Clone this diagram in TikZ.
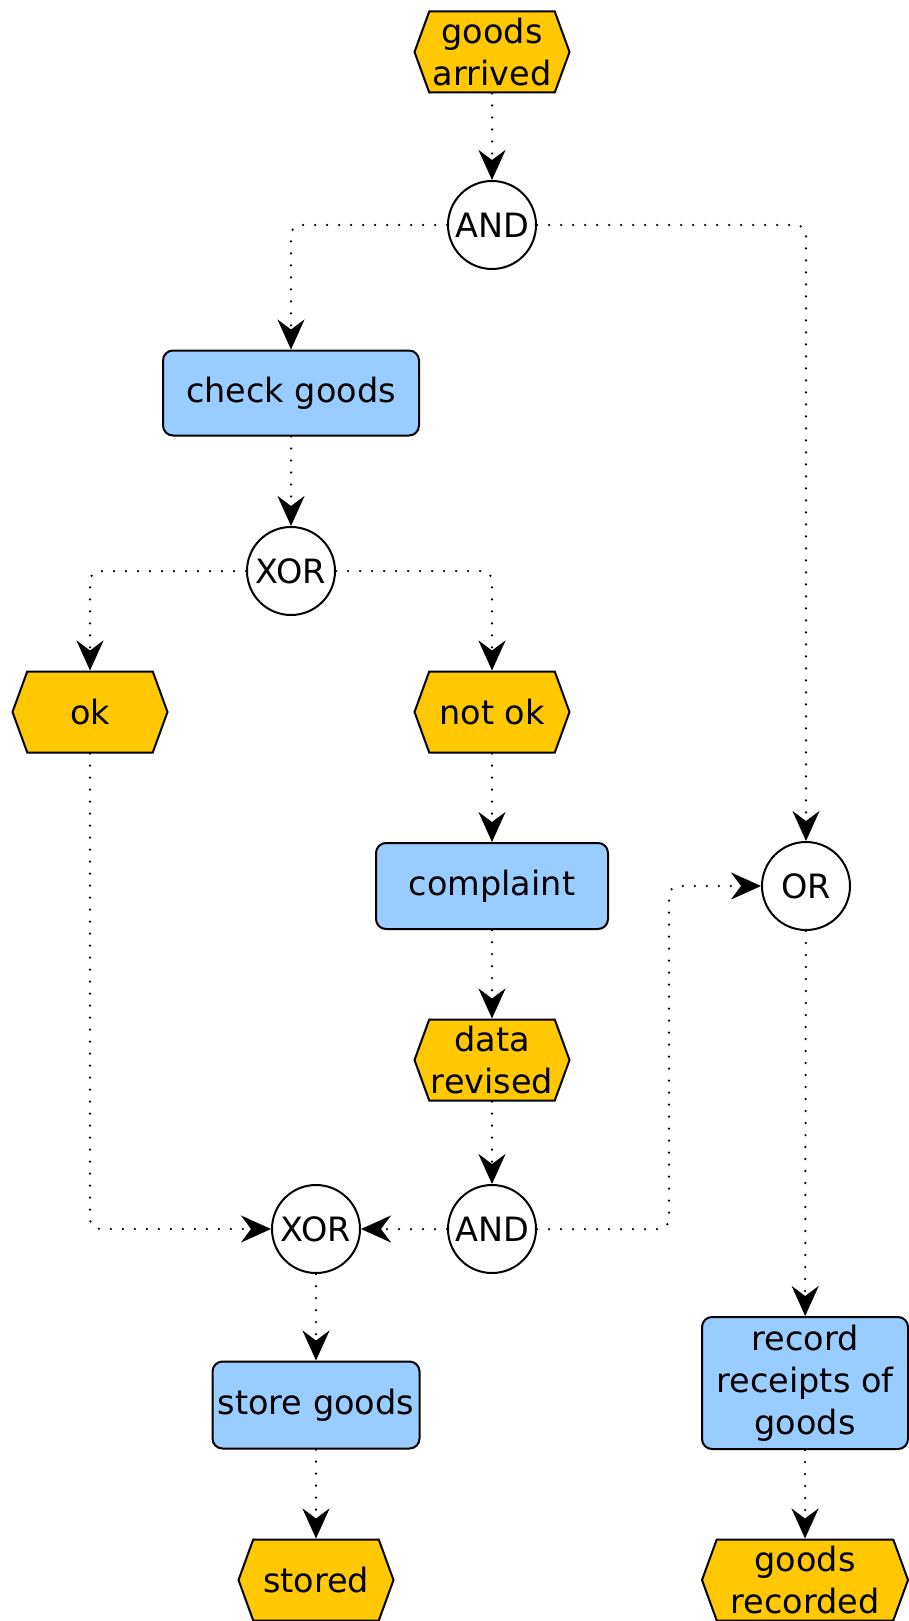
\documentclass[tikz,border=0pt]{standalone}
\usepackage{fontspec}
\setmainfont{DejaVu Sans}
\usetikzlibrary{arrows.meta, shapes.symbols}
\definecolor{eventyellow}{HTML}{FFC800}
\definecolor{funcblue}{HTML}{99CCFF}

\begin{document}
\begin{tikzpicture}[x=1pt, y=-1pt,
  every node/.style={font=\fontsize{33.5}{42}\selectfont, align=center, line width=2pt},
  event/.style={signal, signal to=west and east, signal pointer angle=140, draw, fill=eventyellow,
    minimum width=155pt, minimum height=81pt, inner sep=0pt},
  func/.style={rectangle, rounded corners=10pt, draw, fill=funcblue, inner sep=0pt},
  gate/.style={circle, draw, fill=white, minimum size=88pt, inner sep=0pt},
  flow/.style={line width=2.5pt, dash pattern=on 0pt off 12pt, line cap=round, rounded corners=10pt,
    -{Stealth[length=30pt, width=27pt, inset=10pt]}}]
  \useasboundingbox (0,0) rectangle (908,1621);

  % events, functions and connectors (gates)
  \node[event] (arrived) at (492,52) {goods\\arrived};
  \node[gate] (and1) at (492,225) {AND};
  \node[func, minimum width=256pt, minimum height=85pt] (check) at (291,393) {check goods};
  \node[gate] (xor1) at (291,571) {XOR};
  \node[event] (ok) at (90,712) {ok};
  \node[event] (notok) at (492,712) {not ok};
  \node[func, minimum width=232pt, minimum height=86pt] (complaint) at (492,886) {complaint};
  \node[gate] (or) at (806,886) {OR};
  \node[event] (revised) at (492,1060) {data\\revised};
  \node[gate] (and2) at (492,1229) {AND};
  \node[gate] (xor2) at (316,1229) {XOR};
  \node[func, minimum width=207pt, minimum height=87pt] (store) at (316,1405) {store goods};
  \node[event] (stored) at (316,1580) {stored};
  \node[func, minimum width=206pt, minimum height=132pt] (record) at (805,1383) {record\\receipts of\\goods};
  \node[event, minimum width=206pt] (recorded) at (805,1580) {goods\\recorded};

  % control flow
  \draw[flow] (arrived) -- (and1);
  \draw[flow] (and1.west) -| (check.north);
  \draw[flow] (and1.east) -| (or.north);
  \draw[flow] (check) -- (xor1);
  \draw[flow] (xor1.west) -| (ok.north);
  \draw[flow] (xor1.east) -| (notok.north);
  \draw[flow] (notok) -- (complaint);
  \draw[flow] (complaint) -- (revised);
  \draw[flow] (revised) -- (and2);
  \draw[flow] (ok.south) |- (xor2.west);
  \draw[flow] (and2.west) -- (xor2.east);
  \draw[flow] (and2.east) -- ++(132,0) |- (or.west);
  \draw[flow] (xor2) -- (store);
  \draw[flow] (store) -- (stored);
  \draw[flow] (or) -- (record);
  \draw[flow] (record) -- (recorded);
\end{tikzpicture}
\end{document}
